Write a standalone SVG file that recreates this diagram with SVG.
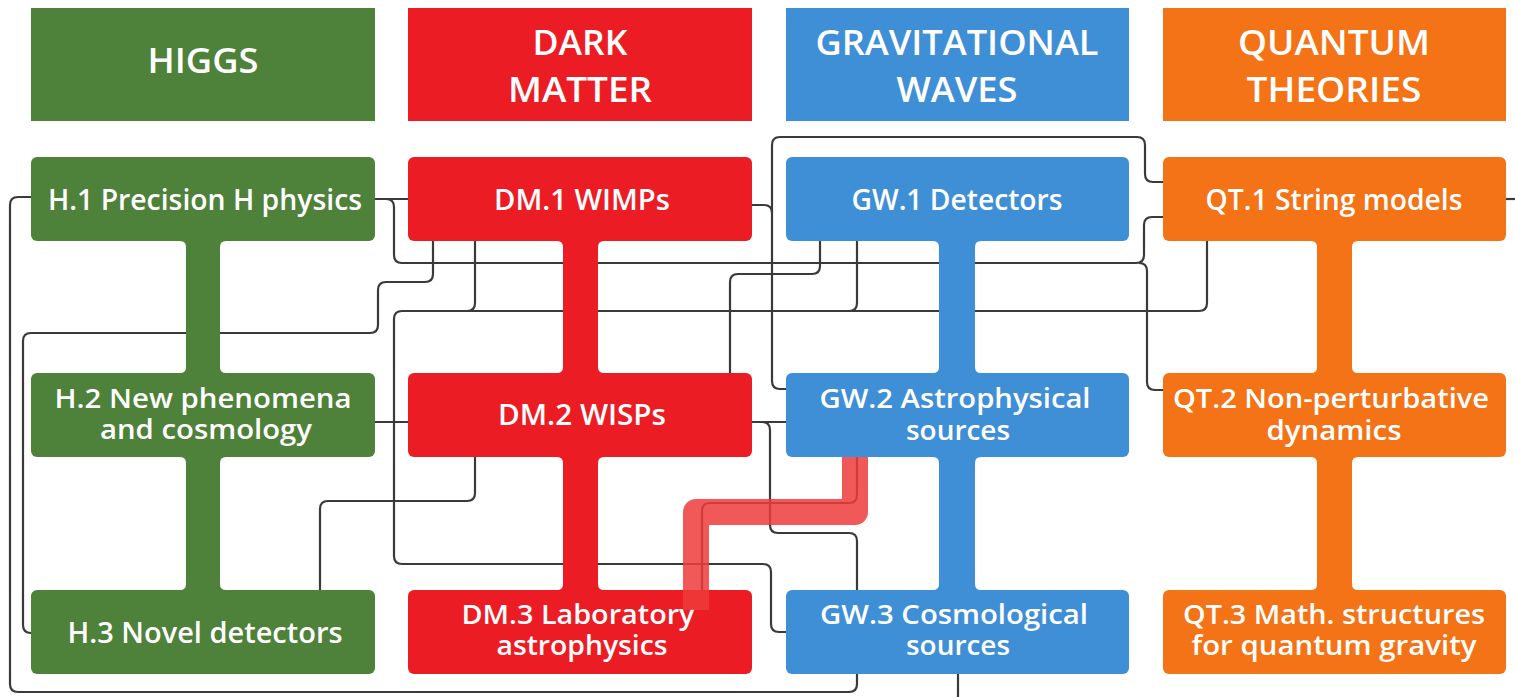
<svg xmlns="http://www.w3.org/2000/svg" width="1515" height="697" viewBox="0 0 1515 697">
  <style>
    .hdr { font-family: "Open Sans", "Noto Sans", "Liberation Sans", sans-serif; font-weight: 600; font-size: 35px; fill: #ffffff; text-anchor: middle; }
    .lbl { font-family: "Open Sans", "Noto Sans", "Liberation Sans", sans-serif; font-weight: 600; font-size: 29px; fill: #ffffff; text-anchor: middle; }
    .lbl2 { font-family: "Open Sans", "Noto Sans", "Liberation Sans", sans-serif; font-weight: 600; font-size: 27px; fill: #ffffff; text-anchor: middle; }
    .wire { fill: none; stroke: #3a3a3a; stroke-width: 2.2; stroke-linecap: butt; stroke-linejoin: round; }
    .higgs { fill: #4e8139; }
    .dm { fill: #ec1c24; }
    .gw { fill: #3f8fd6; }
    .qt { fill: #f37316; }
  </style>

  <rect width="1515" height="697" fill="#ffffff"/>

  <!-- cross-links between topics -->
  <g id="connectors" class="wire">
    <path d="M375 199 H408"/>
    <path d="M375 199 H386 Q394 199 394 207 V255 Q394 263 402 263 H1136 Q1144 263 1144 255 V225 Q1144 217 1152 217 H1163"/>
    <path d="M1139 263 Q1147 263 1147 271 V382 Q1147 390 1155 390 H1163"/>
    <path d="M433 241 V274 Q433 282 425 282 H386 Q378 282 378 290 V325 Q378 333 370 333 H31 Q23 333 23 341 V625 Q23 633 31 633"/>
    <path d="M31 197 H18 Q10 197 10 205 V684 Q10 692 18 692 H849 Q857 692 857 684 V674"/>
    <path d="M1163 182 H1153 Q1145 182 1145 174 V145 Q1145 137 1137 137 H780 Q772 137 772 145 V381 Q772 389 780 389 H786"/>
    <path d="M752 205 H764 Q772 205 772 213"/>
    <path d="M1207 241 V303 Q1207 311 1199 311 H402 Q394 311 394 319 V556 Q394 564 402 564 H763 Q771 564 771 572 V624 Q771 632 779 632 H786"/>
    <path d="M475 241 V303 Q475 311 467 311"/>
    <path d="M857 241 V303 Q857 311 849 311"/>
    <path d="M375 422 H408"/>
    <path d="M820 241 V266 Q820 274 812 274 H738 Q730 274 730 282 V373"/>
    <path d="M475 457 V493 Q475 501 467 501 H328 Q320 501 320 509 V590"/>
    <path d="M752 422 H786"/>
    <path d="M762 422 Q770 422 770 430 V525 Q770 533 778 533 H849 Q857 533 857 541 V590"/>
    <path d="M857 457 V495 Q857 503 849 503 H710 Q702 503 702 511 V590"/>
    <path d="M958 674 V697"/>
    <path d="M1506 199 H1515"/>
  </g>

  <!-- vertical spines joining the boxes of each column -->
  <g id="column-spines">
    <path class="higgs" d="M180 241 Q186 241 186 247 V367 Q186 373 180 373 H226 Q220 373 220 367 V247 Q220 241 226 241 Z"/>
    <path class="higgs" d="M180 457 Q186 457 186 463 V584 Q186 590 180 590 H226 Q220 590 220 584 V463 Q220 457 226 457 Z"/>
    <path class="dm" d="M557 241 Q563 241 563 247 V367 Q563 373 557 373 H604 Q598 373 598 367 V247 Q598 241 604 241 Z"/>
    <path class="dm" d="M557 457 Q563 457 563 463 V584 Q563 590 557 590 H604 Q598 590 598 584 V463 Q598 457 604 457 Z"/>
    <path class="gw" d="M933 241 Q939 241 939 247 V367 Q939 373 933 373 H981 Q975 373 975 367 V247 Q975 241 981 241 Z"/>
    <path class="gw" d="M933 457 Q939 457 939 463 V584 Q939 590 933 590 H981 Q975 590 975 584 V463 Q975 457 981 457 Z"/>
    <path class="qt" d="M1311 241 Q1317 241 1317 247 V367 Q1317 373 1311 373 H1358 Q1352 373 1352 367 V247 Q1352 241 1358 241 Z"/>
    <path class="qt" d="M1311 457 Q1317 457 1317 463 V584 Q1317 590 1311 590 H1358 Q1352 590 1352 584 V463 Q1352 457 1358 457 Z"/>
  </g>

  <!-- column headers -->
  <g id="hdr-higgs">
    <rect class="higgs" x="31" y="8" width="344" height="113"/>
    <text class="hdr" x="203" y="73" textLength="111" lengthAdjust="spacingAndGlyphs">HIGGS</text>
  </g>
  <g id="hdr-dark-matter">
    <rect class="dm" x="408" y="8" width="344" height="113"/>
    <text class="hdr" x="580" y="55" textLength="95" lengthAdjust="spacingAndGlyphs">DARK</text>
    <text class="hdr" x="580" y="102" textLength="144" lengthAdjust="spacingAndGlyphs">MATTER</text>
  </g>
  <g id="hdr-grav-waves">
    <rect class="gw" x="786" y="8" width="343" height="113"/>
    <text class="hdr" x="957" y="55" textLength="283" lengthAdjust="spacingAndGlyphs">GRAVITATIONAL</text>
    <text class="hdr" x="957" y="102" textLength="121" lengthAdjust="spacingAndGlyphs">WAVES</text>
  </g>
  <g id="hdr-quantum">
    <rect class="qt" x="1163" y="8" width="343" height="113"/>
    <text class="hdr" x="1334" y="55" textLength="192" lengthAdjust="spacingAndGlyphs">QUANTUM</text>
    <text class="hdr" x="1334" y="102" textLength="175" lengthAdjust="spacingAndGlyphs">THEORIES</text>
  </g>

  <!-- Higgs column -->
  <g id="h1">
    <rect class="higgs" x="31" y="157" width="344" height="84" rx="6"/>
    <text class="lbl" x="205" y="210" textLength="314" lengthAdjust="spacingAndGlyphs">H.1 Precision H physics</text>
  </g>
  <g id="h2">
    <rect class="higgs" x="31" y="373" width="344" height="84" rx="6"/>
    <text class="lbl2" x="203" y="408" textLength="297" lengthAdjust="spacingAndGlyphs">H.2 New phenomena</text>
    <text class="lbl2" x="206" y="439" textLength="212" lengthAdjust="spacingAndGlyphs">and cosmology</text>
  </g>
  <g id="h3">
    <rect class="higgs" x="31" y="590" width="344" height="84" rx="6"/>
    <text class="lbl" x="205" y="643" textLength="275" lengthAdjust="spacingAndGlyphs">H.3 Novel detectors</text>
  </g>

  <!-- Dark matter column -->
  <g id="dm1">
    <rect class="dm" x="408" y="157" width="344" height="84" rx="6"/>
    <text class="lbl" x="582" y="210" textLength="176" lengthAdjust="spacingAndGlyphs">DM.1 WIMPs</text>
  </g>
  <g id="dm2">
    <rect class="dm" x="408" y="373" width="344" height="84" rx="6"/>
    <text class="lbl" x="582" y="425" textLength="168" lengthAdjust="spacingAndGlyphs">DM.2 WISPs</text>
  </g>
  <g id="dm3">
    <rect class="dm" x="408" y="590" width="344" height="84" rx="6"/>
    <text class="lbl2" x="578" y="624" textLength="233" lengthAdjust="spacingAndGlyphs">DM.3 Laboratory</text>
    <text class="lbl2" x="582" y="655" textLength="171" lengthAdjust="spacingAndGlyphs">astrophysics</text>
  </g>

  <!-- Gravitational waves column -->
  <g id="gw1">
    <rect class="gw" x="786" y="157" width="343" height="84" rx="6"/>
    <text class="lbl" x="957" y="210" textLength="211" lengthAdjust="spacingAndGlyphs">GW.1 Detectors</text>
  </g>
  <g id="gw2">
    <rect class="gw" x="786" y="373" width="343" height="84" rx="6"/>
    <text class="lbl2" x="955" y="408" textLength="271" lengthAdjust="spacingAndGlyphs">GW.2 Astrophysical</text>
    <text class="lbl2" x="958" y="440" textLength="104" lengthAdjust="spacingAndGlyphs">sources</text>
  </g>
  <g id="gw3">
    <rect class="gw" x="786" y="590" width="343" height="84" rx="6"/>
    <text class="lbl2" x="954" y="624" textLength="268" lengthAdjust="spacingAndGlyphs">GW.3 Cosmological</text>
    <text class="lbl2" x="958" y="655" textLength="104" lengthAdjust="spacingAndGlyphs">sources</text>
  </g>

  <!-- Quantum theories column -->
  <g id="qt1">
    <rect class="qt" x="1163" y="157" width="343" height="84" rx="6"/>
    <text class="lbl" x="1334" y="210" textLength="257" lengthAdjust="spacingAndGlyphs">QT.1 String models</text>
  </g>
  <g id="qt2">
    <rect class="qt" x="1163" y="373" width="343" height="84" rx="6"/>
    <text class="lbl2" x="1331" y="408" textLength="316" lengthAdjust="spacingAndGlyphs">QT.2 Non-perturbative</text>
    <text class="lbl2" x="1334" y="440" textLength="135" lengthAdjust="spacingAndGlyphs">dynamics</text>
  </g>
  <g id="qt3">
    <rect class="qt" x="1163" y="590" width="343" height="84" rx="6"/>
    <text class="lbl2" x="1334" y="624" textLength="302" lengthAdjust="spacingAndGlyphs">QT.3 Math. structures</text>
    <text class="lbl2" x="1334" y="655" textLength="285" lengthAdjust="spacingAndGlyphs">for quantum gravity</text>
  </g>

  <!-- emphasised route from GW.2 to DM.3 -->
  <path id="highlight-route" d="M855 457 V512 H696 V610" fill="none" stroke="#ee3b3b" stroke-opacity="0.85" stroke-width="26" stroke-linejoin="round" stroke-linecap="butt"/>
</svg>
